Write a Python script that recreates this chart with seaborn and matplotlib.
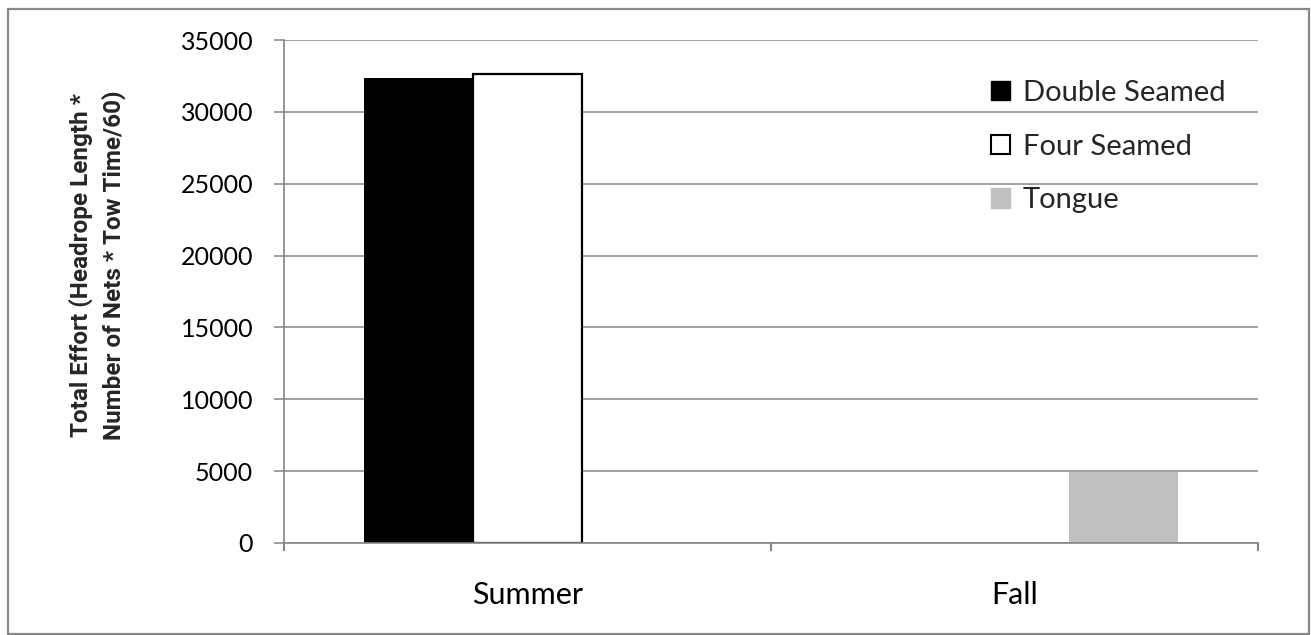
import matplotlib
matplotlib.use("Agg")
import matplotlib.pyplot as plt
import seaborn as sns
import pandas as pd
from matplotlib.patches import Rectangle, Patch

# ---- data ----
seasons = ["Summer", "Summer", "Fall"]
net_types = ["Double Seamed", "Four Seamed", "Tongue"]
row_nets = ["Double Seamed", "Four Seamed", "Tongue"]
effort = [32380, 32660, 4950]
season_order = ["Summer", "Fall"]
y_ticks = [0, 5000, 10000, 15000, 20000, 25000, 30000, 35000]
colors = ["#000000", "#ffffff", "#bfbfbf"]
ylabel = "Total Effort (Headrope Length *\nNumber of Nets * Tow Time/60)"

df = pd.DataFrame({"Season": seasons, "Net": row_nets, "Effort": effort})

sns.set_theme(style="white")
plt.rcParams["font.family"] = ["Lato", "DejaVu Sans"]

W, H = 1311, 635
fig = plt.figure(figsize=(W / 100, H / 100), dpi=100)
ax = fig.add_axes([284 / W, 1 - 543 / H, (1258 - 284) / W, (543 - 40) / H])

sns.barplot(data=df, x="Season", y="Effort", hue="Net", order=season_order,
            hue_order=net_types, palette=colors, saturation=1, width=0.672,
            ax=ax, legend=False, linewidth=0)

for patch in ax.containers[1]:
    patch.set_edgecolor("black")
    patch.set_linewidth(1.6)

grid_c = "#868686"
ax.set_xlim(-0.5, 1.5)
ax.set_ylim(0, 35000)
ax.set_yticks(y_ticks)
ax.set_yticklabels([str(v) for v in y_ticks])
ax.yaxis.grid(True, color=grid_c, linewidth=1.1)
ax.xaxis.grid(False)
ax.set_axisbelow(True)
for s in ["top", "right"]:
    ax.spines[s].set_visible(False)
for s in ["left", "bottom"]:
    ax.spines[s].set_color(grid_c)
    ax.spines[s].set_linewidth(1.2)

ax.tick_params(axis="y", which="major", left=True, length=7.2, width=1.1,
               color=grid_c, labelsize=18, pad=15, labelcolor="black")
ax.tick_params(axis="x", which="major", bottom=False, length=0, labelsize=22,
               pad=27, labelcolor="black")
ax.set_xticks([-0.5, 0.5, 1.5], minor=True)
ax.tick_params(axis="x", which="minor", bottom=True, length=6, width=1.5,
               color=grid_c)
ax.set_xlabel("")
ax.set_ylabel("")

fig.text(97 / W, 1 - 265 / H, ylabel, rotation=90, ha="center", va="center",
         multialignment="center", fontsize=17.5, fontweight="bold",
         family=["Roboto", "DejaVu Sans"], linespacing=1.45)

handles = [Patch(facecolor=colors[0], edgecolor=colors[0]),
           Patch(facecolor=colors[1], edgecolor="black", linewidth=1.5),
           Patch(facecolor=colors[2], edgecolor=colors[2])]
ax.legend(handles, net_types, loc="upper left",
          bbox_to_anchor=(991 / W, 1 - 80 / H), bbox_transform=fig.transFigure,
          frameon=False, fontsize=21, handlelength=0.65, handleheight=0.65,
          handletextpad=0.45, labelspacing=0.95, borderpad=0, borderaxespad=0)

fig.patches.append(Rectangle((8 / W, 1 / H), (1309 - 8) / W, (634 - 9) / H,
                             transform=fig.transFigure, fill=False,
                             edgecolor="#888888", linewidth=1.6))

fig.savefig("out.png", dpi=100, facecolor="white")
